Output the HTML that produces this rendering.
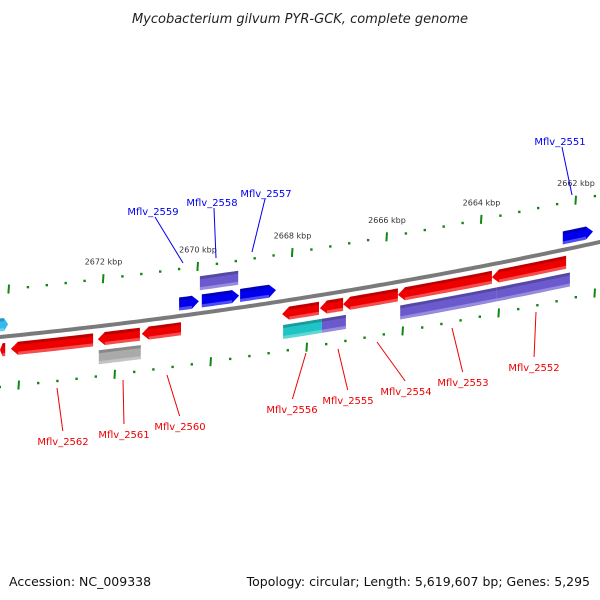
<!DOCTYPE html>
<html><head><meta charset="utf-8"><style>
html,body{margin:0;padding:0;background:#fff;}
svg{display:block;font-family:"DejaVu Sans","Liberation Sans",sans-serif;}
</style></head><body>
<svg id="map" width="600" height="600" viewBox="0 0 600 600">
<text x="300" y="23" text-anchor="middle" font-size="13" font-style="italic" fill="#222">Mycobacterium gilvum PYR-GCK, complete genome</text>
<text x="9" y="586" font-size="12.5" fill="#111">Accession: NC_009338</text>
<text x="590" y="586" text-anchor="end" font-size="12.5" fill="#111">Topology: circular; Length: 5,619,607 bp; Genes: 5,295</text>
<g id="ticks"></g>
<path id="backbone" fill="none" stroke="#7a7a7a" stroke-width="4"></path>
<g id="genes"></g>
<g id="labels"></g>
</svg>
<script>
// data (kbp)
const geneNames=["g-ltblue","g-blue1","g-blue2","g-blue3","g-purple-top","g-blue4","r0","r-2562","r-2561","r-2560","gray-2561","r-2556","r-2555","r-2554","r-2553","r-2552","cyan-2556","p-2555","p-2553","p-2552"];
const geneStart=[2674.19,2670.40,2669.92,2669.11,2669.96,2662.28,2674.19,2673.96,2672.12,2671.19,2672.10,2668.22,2667.42,2666.93,2665.77,2663.78,2668.20,2667.38,2665.72,2663.69];
const geneEnd=[2674.02,2669.98,2669.13,2668.35,2669.15,2661.64,2674.08,2672.22,2671.23,2670.36,2671.21,2667.44,2666.93,2665.77,2663.78,2662.21,2667.38,2666.87,2663.69,2662.13];
const geneTrack=[-1,-1,-1,-1,-2,-1,1,1,1,1,2,1,1,1,1,1,2,2,2,2];
const geneDir=[1,1,1,1,0,1,-1,-1,-1,-1,0,-1,-1,-1,-1,-1,0,0,0,0];
const geneColor=["#33bbee","#0000ee","#0000ee","#0000ee","#6a5acd","#0000ee","#ee0000","#ee0000","#ee0000","#ee0000","#aaaaaa","#ee0000","#ee0000","#ee0000","#ee0000","#ee0000","#1fc4c4","#6a5acd","#6a5acd","#6a5acd"];
const majorTicks=[2674,2672,2670,2668,2666,2664,2662];
const tickLabels=["","2672 kbp","2670 kbp","2668 kbp","2666 kbp","2664 kbp","2662 kbp"];
const labelNames=["Mflv_2551","Mflv_2559","Mflv_2558","Mflv_2557","Mflv_2562","Mflv_2561","Mflv_2560","Mflv_2556","Mflv_2555","Mflv_2554","Mflv_2553","Mflv_2552"];
const labelKbp=[2661.9,2670.3,2669.6,2668.9,2673.3,2672.0,2670.8,2668.0,2667.2,2666.3,2665.3,2663.6];
const labelStrand=[1,1,1,1,-1,-1,-1,-1,-1,-1,-1,-1];

const NS="http://www.w3.org/2000/svg";
function f(x){return 337-0.0994*x-9.82e-5*x*x;}
function xU(k){return 198+(2670-k)*47.25;}
function xL(k){return 115+(2672-k)*48;}
function mk(t,a,p){const e=document.createElementNS(NS,t);for(const k in a)e.setAttribute(k,a[k]);p.appendChild(e);return e;}

// backbone
let d="";for(let x=-5;x<=605;x+=5)d+=(x===-5?"M":"L")+x+","+f(x).toFixed(1);
document.getElementById("backbone").setAttribute("d",d);

// ticks
const tg=document.getElementById("ticks");
for(let k=2674.8;k>=2661.2;k-=0.4){
  const kk=Math.round(k*10)/10;const major=Math.abs(kk/2-Math.round(kk/2))<0.01;
  [[xU(kk),-47],[xL(kk),50]].forEach(([x,o])=>{
    if(x<-2||x>602)return;const y=f(x)+o;
    const t=mk("line",{x1:x,y1:y-(major?4.5:1.2),x2:x+(major?-0.6:0),y2:y+(major?4.5:1.2),stroke:"#118811","stroke-width":major?2:2.4},tg);
    
    
  });
}
majorTicks.forEach((k,i)=>{
  if(!tickLabels[i])return;const x=xU(k);
  const t=mk("text",{x:x,y:f(x)-61,"text-anchor":"middle","font-size":"8","fill":"#333"},tg);
  t.textContent=tickLabels[i];
  
  
});

// genes
const gg=document.getElementById("genes");
geneStart.forEach((s,i)=>{
  const x1=xU(s),x2=xU(geneEnd[i]);const off=geneTrack[i]*(Math.abs(geneTrack[i])===2?15.5:6.5)+(geneTrack[i]===1?6.5:geneTrack[i]===-1?-6.5:0);
  const o=geneTrack[i]===1?13:geneTrack[i]===-1?-12:geneTrack[i]===2?31:-30;
  const h=geneTrack[i]===2||geneTrack[i]===-2?14:13;const dir=geneDir[i];const aw=dir?Math.min(7,(x2-x1)/2):0;
  const a=dir===-1?x1+aw:x1,b=dir===1?x2-aw:x2;
  const top=[],bot=[];
  for(let j=0;j<=8;j++){const x=a+(b-a)*j/8;top.push([x,f(x)+o-h/2]);bot.push([x,f(x)+o+h/2]);}
  let pts=top.slice();
  if(dir===1)pts.push([x2,f(x2)+o]);
  pts=pts.concat(bot.reverse());
  if(dir===-1)pts.push([x1,f(x1)+o]);
  const p=mk("polygon",{points:pts.map(q=>q[0].toFixed(1)+","+q[1].toFixed(1)).join(" "),fill:geneColor[i]},gg);
  
  
  // shading strips
  const sh=mk("polygon",{points:[[a,f(a)+o+h/2-3],[b,f(b)+o+h/2-3],[b,f(b)+o+h/2],[a,f(a)+o+h/2]].map(q=>q[0].toFixed(1)+","+q[1].toFixed(1)).join(" "),fill:"#fff","fill-opacity":"0.3"},gg);
  
  
  const dk=mk("polygon",{points:[[a,f(a)+o-h/2],[b,f(b)+o-h/2],[b,f(b)+o-h/2+3],[a,f(a)+o-h/2+3]].map(q=>q[0].toFixed(1)+","+q[1].toFixed(1)).join(" "),fill:"#000","fill-opacity":"0.2"},gg);
  
  
});

// labels
const lg=document.getElementById("labels");
const labelPos=[[560,141,572,195],[153,211,183,263],[212,202,216,258],[266,193,252,252],[63,441,57,388],[124,434,123,380],[180,426,167,375],[292,409,306,353],[348,400,338,349],[406,391,377,342],[463,382,452,328],[534,367,536,312]];
labelNames.forEach((n,i)=>{
  const up=labelStrand[i]===1;const c=up?"#0000ee":"#ee0000";const [tx,ty,ax,ay]=labelPos[i];
  const l=mk("line",{x1:up?tx+(ax>tx?2:-1):tx-5+(ax-tx)*0.0,y1:up?ty+6:ty-10,x2:ax,y2:ay,stroke:c,"stroke-width":1},lg);
  if(!up){l.setAttribute("x1",ax+(tx-ax)*0.97);}
  
  
  const t=mk("text",{x:tx,y:ty+4,"text-anchor":"middle","font-size":"10",fill:c},lg);
  t.textContent=n;
  
  
});
</script>
</body></html>
